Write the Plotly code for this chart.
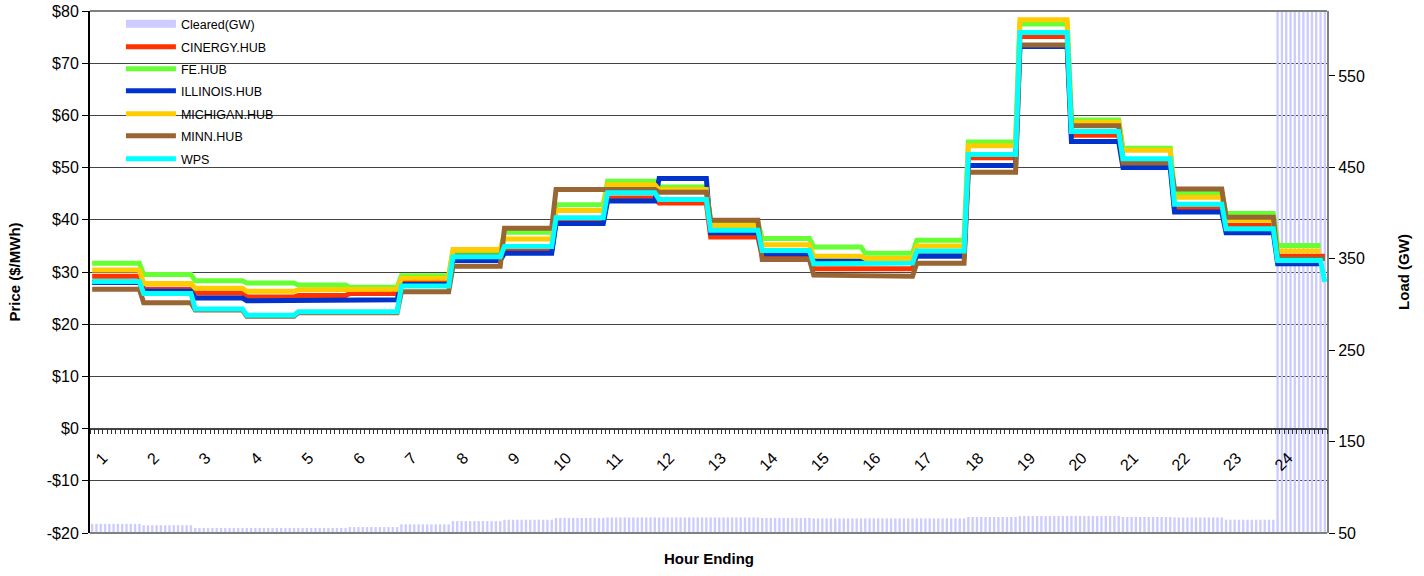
import numpy as np
import plotly.graph_objects as go

hours = [str(h) for h in range(1, 25)]
steps_per_hour = 12

cleared_gw = [60, 58.5, 55.5, 55.5, 55.5, 56.5, 59.5, 63, 64.5, 66.5, 67, 67,
              67, 66.5, 66, 66, 66, 67.5, 68.5, 68.5, 67.5, 67, 64.5, 700]
cinergy = [29.2, 26.7, 26.0, 25.2, 25.5, 25.9, 28.0, 33.3, 34.2, 39.7, 44.2, 43.2,
           36.7, 33.0, 30.6, 30.6, 33.3, 51.9, 75.1, 56.2, 51.0, 42.1, 38.9, 33.0]
fe_hub = [31.7, 29.5, 28.3, 27.9, 27.5, 27.1, 29.3, 34.0, 37.6, 42.9, 47.4, 46.3,
          39.5, 36.4, 34.8, 33.6, 36.1, 54.9, 77.5, 59.1, 53.7, 45.2, 41.2, 35.1]
illinois = [28.0, 26.3, 25.0, 24.5, 24.6, 24.7, 27.6, 32.2, 33.6, 39.3, 43.6, 47.9,
            37.5, 33.5, 32.2, 32.0, 33.0, 50.4, 73.2, 55.0, 50.0, 41.5, 37.5, 31.6]
michigan = [30.4, 27.8, 26.9, 26.3, 26.6, 26.7, 28.8, 34.3, 36.3, 41.8, 46.7, 45.8,
            38.9, 35.2, 33.0, 32.6, 35.0, 54.2, 78.3, 58.7, 53.3, 44.3, 39.9, 34.0]
minn = [26.7, 24.1, 22.7, 21.5, 22.2, 22.2, 26.2, 31.1, 38.4, 45.8, 45.8, 45.3,
        39.9, 32.4, 29.4, 29.2, 31.7, 49.1, 73.5, 58.0, 50.9, 45.9, 40.5, 32.6]
wps = [28.2, 25.9, 22.9, 21.7, 22.4, 22.4, 27.3, 32.9, 34.9, 40.4, 45.2, 43.9,
       38.0, 34.1, 31.6, 31.7, 34.0, 52.5, 75.9, 56.9, 51.7, 43.0, 38.3, 32.2]
wps_last_interval = 28.1

price_ticks = [-20, -10, 0, 10, 20, 30, 40, 50, 60, 70, 80]
price_tick_labels = ["-$20", "-$10", "$0", "$10", "$20", "$30", "$40",
                     "$50", "$60", "$70", "$80"]
load_ticks = [50, 150, 250, 350, 450, 550]

series = [
    ("CINERGY.HUB", cinergy, "#FF3300", True),
    ("FE.HUB", fe_hub, "#66FF33", False),
    ("ILLINOIS.HUB", illinois, "#0033CC", False),
    ("MICHIGAN.HUB", michigan, "#FFCC00", False),
    ("MINN.HUB", minn, "#996633", True),
    ("WPS", wps, "#00FFFF", True),
]

n = len(hours) * steps_per_hour
x_idx = np.arange(n)
bar_color = "#CCCCFF"
legend_ids = ["legend", "legend2", "legend3", "legend4", "legend5", "legend6", "legend7"]

fig = go.Figure()
# load bars on the base (right-side) axis so price lines draw above them
fig.add_trace(go.Bar(
    x=x_idx, y=np.repeat(cleared_gw, steps_per_hour), name="Cleared(GW)",
    marker=dict(color=bar_color, line=dict(width=0)), yaxis="y",
    showlegend=False,
))
# legend entry for the bars (wide swatch like the original)
fig.add_trace(go.Scatter(
    x=[None], y=[None], name="Cleared(GW)", mode="lines",
    line=dict(color=bar_color, width=8), yaxis="y2", legend=legend_ids[0],
))
for i, (name, vals, color, full) in enumerate(series):
    y = list(np.repeat(vals, steps_per_hour).astype(float))
    if name == "WPS":
        y[-1] = wps_last_interval
    elif not full:
        y[-1] = None
    fig.add_trace(go.Scatter(
        x=x_idx, y=y, name=name, mode="lines",
        line=dict(color=color, width=5), yaxis="y2", legend=legend_ids[i + 1],
    ))

boundaries = [i - 0.5 for i in range(n + 1)]
tick_text = []
for b in boundaries:
    k = b + 0.5
    if k % steps_per_hour == steps_per_hour // 2:
        tick_text.append(hours[int(k // steps_per_hour)])
    else:
        tick_text.append("")

font_family = "Liberation Sans, Arial, sans-serif"
W, H = 1424, 576
ml, mr, mt, mb = 90, 97, 10, 43
plot_h = H - mt - mb

legend_layout = {}
item_centers_px = [24, 47, 69, 91, 114, 136, 159]
for lid, cy in zip(legend_ids, item_centers_px):
    legend_layout[lid] = dict(
        x=0.025, y=1 - (cy - mt) / plot_h, xanchor="left", yanchor="middle",
        bgcolor="rgba(0,0,0,0)", font=dict(size=12.5, family=font_family),
        itemwidth=50,
    )

fig.update_layout(
    width=W, height=H,
    margin=dict(l=ml, r=mr, t=mt, b=mb),
    paper_bgcolor="white", plot_bgcolor="white",
    font=dict(family=font_family, color="black"),
    bargap=0.45,
    showlegend=True,
    xaxis=dict(
        range=[-0.5, n - 0.5], anchor="free", position=0.2,
        tickmode="array", tickvals=boundaries, ticktext=tick_text,
        ticks="outside", ticklen=5, tickcolor="#333333", tickwidth=1,
        showgrid=False, zeroline=False, showline=True,
        linecolor="#444444", linewidth=1.5, automargin=False,
        tickangle=-45, tickfont=dict(size=16),
        ticklabelstandoff=8, ticklabelshift=-13,
    ),
    yaxis=dict(
        range=[50, 621], side="right", tickmode="array",
        tickvals=load_ticks, ticks="outside", ticklen=6, tickcolor="black",
        showgrid=False, zeroline=False, showline=True, linecolor="#808080",
        linewidth=2, tickfont=dict(size=16), automargin=False,
        title=dict(text="<b>Load (GW)</b>", font=dict(size=15), standoff=35),
    ),
    yaxis2=dict(
        range=[-20, 80], overlaying="y", side="left", tickmode="array",
        tickvals=price_ticks, ticktext=price_tick_labels, ticks="outside",
        ticklen=6, tickcolor="black", showgrid=True, gridcolor="#444444",
        gridwidth=1, zeroline=False, showline=True, linecolor="black",
        linewidth=2, tickfont=dict(size=16), automargin=False,
        ticklabeloverflow="allow",
        title=dict(text="<b>Price ($/MWh)</b>", font=dict(size=15), standoff=23),
    ),
    shapes=[
        dict(type="rect", xref="paper", yref="paper", layer="between",
             x0=0.02, x1=0.158, y0=1 - (170 - mt) / plot_h, y1=0.995,
             fillcolor="white", line=dict(width=0)),
        dict(type="line", xref="paper", yref="paper", x0=0, x1=1, y0=1, y1=1,
             line=dict(color="#808080", width=2)),
        dict(type="line", xref="paper", yref="paper", x0=0, x1=1, y0=0, y1=0,
             line=dict(color="#808080", width=2)),
    ],
    annotations=[
        dict(text="<b>Hour Ending</b>", xref="paper", yref="paper",
             x=0.5, y=-0.048, xanchor="center", yanchor="middle",
             showarrow=False, font=dict(size=15)),
    ],
    **legend_layout,
)

fig.write_html(
    "out.html",
    config={"displayModeBar": False},
    post_script="document.body.style.margin='0';document.body.style.overflow='hidden';",
)
